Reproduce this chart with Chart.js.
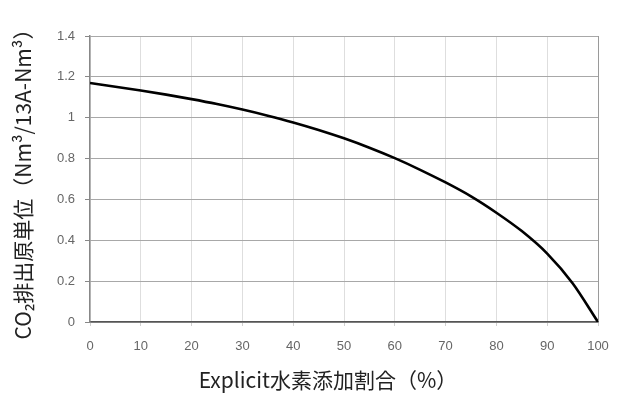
<!DOCTYPE html>
<html>
<head>
<meta charset="utf-8">
<script src="https://cdn.jsdelivr.net/npm/chart.js@4/dist/chart.umd.min.js"></script>
<style>
  html, body { margin: 0; padding: 0; background: #fff; }
  #wrap { width: 618px; height: 393px; }
</style>
</head>
<body>
<div id="wrap"><canvas id="c" width="618" height="393"></canvas></div>
<script>
// Hydrogen blending ratio (%) and CO2 emission intensity (Nm3 per 13A-Nm3)
const hydrogenRatio = [0, 5, 10, 15, 20, 25, 30, 35, 40, 45, 50, 55, 60, 65, 70, 75, 80, 85, 90, 95, 100];
const co2Intensity  = [1.17, 1.152, 1.133, 1.113, 1.091, 1.067, 1.040, 1.010, 0.977, 0.940, 0.899, 0.853, 0.802, 0.745, 0.683, 0.615, 0.535, 0.445, 0.335, 0.19, 0];
const yTickLabels = ['0', '0.2', '0.4', '0.6', '0.8', '1', '1.2', '1.4'];
const xTickLabels = ['0', '10', '20', '30', '40', '50', '60', '70', '80', '90', '100'];
const xTitle = 'Explicit水素添加割合（%）';
const yTitle = 'CO₂排出原単位（Nm³/13A-Nm³）';

const points = hydrogenRatio.map((x, i) => ({ x: x, y: co2Intensity[i] }));
const tickFont = { family: '"Liberation Sans", Arial, sans-serif', size: 13 };
const titleFamily = '"Noto Sans CJK JP", "Noto Sans", sans-serif';
const titleFont = { family: titleFamily, size: 21 };

// Horizontal axis caption, centred on the figure rather than the plot area
const xCaption = {
  id: 'xCaption',
  afterDraw(chart) {
    const ctx = chart.ctx;
    ctx.save();
    ctx.font = '21px ' + titleFamily;
    ctx.fillStyle = '#222';
    ctx.textAlign = 'center';
    ctx.textBaseline = 'middle';
    ctx.fillText(xTitle, chart.width / 2 + 19, chart.height - 13);
    ctx.restore();
  }
};

new Chart(document.getElementById('c'), {
  type: 'line',
  data: {
    datasets: [{
      data: points,
      borderColor: '#000',
      borderWidth: 2.6,
      pointRadius: 0,
      cubicInterpolationMode: 'monotone',
      fill: false
    }]
  },
  options: {
    responsive: false,
    animation: false,
    layout: { padding: { top: 36, right: 20, bottom: 0, left: 0 } },
    plugins: { legend: { display: false }, tooltip: { enabled: false } },
    scales: {
      x: {
        type: 'linear',
        min: 0, max: 100,
        afterFit: s => { s.height = 71; s.paddingLeft = 0; s.paddingRight = 0; },
        ticks: {
          stepSize: 10,
          color: '#666',
          font: tickFont,
          padding: 13,
          callback: (v, i) => xTickLabels[i]
        },
        grid: {
          color: ctx => ctx.tick && ctx.tick.value === 100 ? '#9a9a9a' : '#dedede',
          lineWidth: 1,
          tickLength: 4,
          tickColor: '#d0d0d0'
        },
        border: { color: '#555', width: 1.5 }
      },
      y: {
        min: 0, max: 1.4,
        afterFit: s => { s.width = 90; },
        ticks: {
          stepSize: 0.2,
          color: '#666',
          font: tickFont,
          padding: 10,
          callback: (v, i) => yTickLabels[i]
        },
        grid: {
          color: '#a8a8a8',
          lineWidth: 1,
          tickLength: 5,
          tickColor: '#888'
        },
        border: { color: '#888', width: 1.5 },
        title: {
          display: true,
          text: yTitle,
          color: '#222',
          font: titleFont,
          padding: { top: 10, bottom: 0 }
        }
      }
    }
  },
  plugins: [xCaption]
});
</script>
</body>
</html>
